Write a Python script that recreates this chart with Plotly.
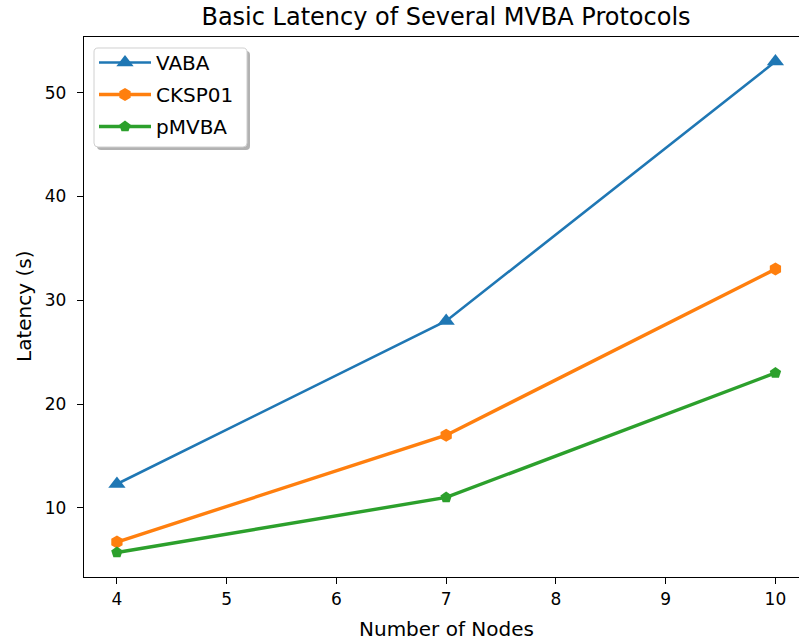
import plotly.graph_objects as go

nodes = [4, 7, 10]
vaba = [12.3, 28.0, 53.0]
cksp01 = [6.7, 17.0, 33.0]
pmvba = [5.7, 11.0, 23.0]
x_ticks = [4, 5, 6, 7, 8, 9, 10]
y_ticks = [10, 20, 30, 40, 50]

W, H = 799, 641
L, T, B = 84, 37, 64
PW = W - L
PH = H - T - B

FONT = "DejaVu Sans"

fig = go.Figure()
fig.add_trace(go.Scatter(x=nodes, y=vaba, name="VABA", mode="lines+markers",
                         line=dict(color="#1f77b4", width=2.6),
                         marker=dict(symbol="triangle-up", size=15, color="#1f77b4"),
                         legendgroup="a"))
fig.add_trace(go.Scatter(x=nodes, y=cksp01, name="CKSP01", mode="lines+markers",
                         line=dict(color="#ff7f0e", width=3.4),
                         marker=dict(symbol="hexagon", size=13, color="#ff7f0e"),
                         legendgroup="b"))
fig.add_trace(go.Scatter(x=nodes, y=pmvba, name="pMVBA", mode="lines+markers",
                         line=dict(color="#2ca02c", width=3.4),
                         marker=dict(symbol="pentagon", size=12, color="#2ca02c"),
                         legendgroup="c"))

ppx = 109.75
xmin = 3.7
xmax = xmin + PW / ppx
ymin, ymax = 3.335, 55.365


def px2paper(px, py):
    return (px - L) / PW, 1 - (py - T) / PH


def rrect(x0, y0, x1, y1, r):
    def P(x, y):
        a, b = px2paper(x, y)
        return f"{a:.5f},{b:.5f}"
    return (f"M{P(x0 + r, y0)} L{P(x1 - r, y0)} Q{P(x1, y0)} {P(x1, y0 + r)} "
            f"L{P(x1, y1 - r)} Q{P(x1, y1)} {P(x1 - r, y1)} L{P(x0 + r, y1)} "
            f"Q{P(x0, y1)} {P(x0, y1 - r)} L{P(x0, y0 + r)} Q{P(x0, y0)} {P(x0 + r, y0)} Z")


shapes = [
    dict(type="path", xref="paper", yref="paper", path=rrect(97, 51, 250, 150, 4),
         fillcolor="rgba(0,0,0,0.3)", line=dict(width=0), layer="above"),
    dict(type="path", xref="paper", yref="paper", path=rrect(94, 48, 247, 147, 4),
         fillcolor="white", line=dict(color="#d0d0d0", width=1), layer="above"),
]

lx, ly = px2paper(94, 43)

fig.update_layout(
    width=W, height=H,
    margin=dict(l=L, r=0, t=T, b=B, autoexpand=False),
    paper_bgcolor="white", plot_bgcolor="white",
    font=dict(family=FONT, color="black", size=17),
    title=dict(text="Basic Latency of Several MVBA Protocols", font=dict(size=24, family=FONT, color="black"),
               x=446 / W, xref="container", xanchor="center",
               y=1 - 17 / H, yref="container", yanchor="middle"),
    xaxis=dict(range=[xmin, xmax], tickvals=x_ticks, ticktext=[str(v) for v in x_ticks],
               showgrid=False, zeroline=False, showline=True, linecolor="black", linewidth=1.4,
               mirror=True, ticks="outside", ticklen=6, tickwidth=1.4, tickcolor="black",
               tickfont=dict(size=17, family=FONT, color="black")),
    yaxis=dict(range=[ymin, ymax], tickvals=y_ticks, ticktext=[str(v) for v in y_ticks],
               showgrid=False, zeroline=False, showline=True, linecolor="black", linewidth=1.4,
               mirror=False, ticks="outside", ticklen=6, tickwidth=1.4, tickcolor="black",
               ticklabelstandoff=7,
               tickfont=dict(size=17, family=FONT, color="black")),
    legend=dict(x=lx, y=ly, xanchor="left", yanchor="top", bgcolor="rgba(0,0,0,0)",
                borderwidth=0, font=dict(size=20, family=FONT, color="black"),
                tracegroupgap=3, itemwidth=52),
    shapes=shapes,
    showlegend=True,
    annotations=[
        dict(text="Number of Nodes", xref="paper", yref="paper",
             x=(446 - L) / PW, y=1 - (629 - T) / PH, xanchor="center", yanchor="middle",
             showarrow=False, font=dict(size=20, family=FONT, color="black")),
        dict(text="Latency (s)", xref="paper", yref="paper",
             x=(24 - L) / PW, y=1 - (307 - T) / PH, xanchor="center", yanchor="middle",
             textangle=-90, showarrow=False, font=dict(size=20, family=FONT, color="black")),
    ],
)

fig.write_html("out.html", config={"displayModeBar": False},
               post_script="document.body.style.margin='0';document.body.style.overflow='hidden';")
